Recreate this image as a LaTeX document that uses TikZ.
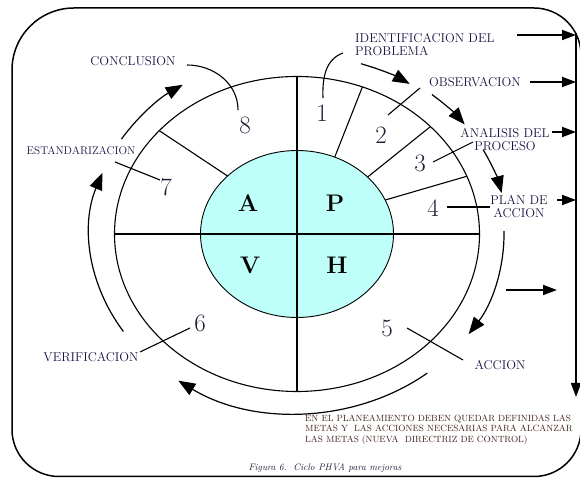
\documentclass[tikz,border=0pt]{standalone}
\usetikzlibrary{arrows.meta,calc}
\definecolor{cyanfill}{RGB}{190,255,250}
\definecolor{labelblue}{RGB}{22,22,70}
\definecolor{numgray}{RGB}{30,30,55}
\definecolor{notebrown}{RGB}{65,30,25}
\begin{document}
\begin{tikzpicture}[x=1pt,y=1pt,
  frame/.style={line width=1.5pt},
  ring/.style={line width=1.1pt},
  cross/.style={line width=1.8pt},
  spoke/.style={line width=1.1pt},
  leader/.style={line width=1.1pt},
  cyclearrow/.style={line width=1.2pt,-{Triangle[length=17pt,width=13pt]}},
  sidearrow/.style={line width=1.8pt,-{Triangle[length=14pt,width=10pt]}},
  lbl/.style={font=\fontsize{12.8}{13}\selectfont, text=labelblue, inner sep=0pt},
  num/.style={font=\fontsize{25}{25}\selectfont, text=numgray, inner sep=0pt},
  quad/.style={font=\fontsize{24}{24}\selectfont\bfseries, inner sep=0pt},
]
\useasboundingbox (0,0) rectangle (580,478);

% outer rounded frame
\draw[frame] (12,408) -- (12,48.5) arc[start angle=180,end angle=270,radius=47pt]
  -- (534,1.5) arc[start angle=270,end angle=360,radius=47pt]
  -- (581,423) arc[start angle=0,end angle=90,radius=47pt]
  -- (74,470) arc[start angle=90,end angle=180,radius=62pt] -- cycle;

% centre, inner ellipse and ring
\coordinate (O) at (297,244);
\fill[cyanfill] (O) ellipse [x radius=96.5pt, y radius=83.5pt];
\draw[line width=0.9pt] (O) ellipse [x radius=96.5pt, y radius=83.5pt];
\draw[ring] (O) ellipse [x radius=182.5pt, y radius=157.5pt];

% quadrant cross
\path (O) ++(180:182.5pt and 157.5pt) coordinate (ringW)
      (O) ++(0:182.5pt and 157.5pt) coordinate (ringE)
      (O) ++(90:182.5pt and 157.5pt) coordinate (ringN)
      (O) ++(270:182.5pt and 157.5pt) coordinate (ringS);
\draw[cross] (ringW) -- (ringE);
\draw[cross] (ringN) -- (ringS);

% spokes between inner ellipse and ring
\foreach \name/\ti/\to in {sa/67/69, sb/43/43, sc/24/21.5, sd/136/139}{
  \path (O) ++(\ti:96.5pt and 83.5pt) coordinate (\name-in)
        (O) ++(\to:182.5pt and 157.5pt) coordinate (\name-out);
  \draw[spoke] (\name-in) -- (\name-out);
}

% quadrant letters
\node[quad] (qA) at (248,275) {A};
\node[quad] (qP) at (335,275) {P};
\node[quad] (qV) at (250,213) {V};
\node[quad] (qH) at (337,213) {H};

% step numbers
\node[num] (n1) at (322,365) {1};
\node[num] (n2) at (381,343) {2};
\node[num] (n3) at (420,315) {3};
\node[num] (n4) at (433,270) {4};
\node[num] (n5) at (387,150) {5};
\node[num] (n6) at (200,155) {6};
\node[num] (n7) at (166,291) {7};
\node[num] (n8) at (245,353) {8};

% step labels
\node[lbl] (conclusion) at (133,417) {CONCLUSION};
\node[lbl, align=left, anchor=west] (identif) at (355,433.5) {IDENTIFICACION DEL\\PROBLEMA};
\node[lbl] (observ) at (475,396) {OBSERVACION};
\node[lbl, align=center] (analisis) at (505,338) {ANALISIS DEL\\PROCESO};
\node[lbl, align=center] (plan) at (519,271.5) {PLAN DE\\ACCION};
\node[lbl, font=\fontsize{11.2}{12}\selectfont] (estand) at (81,327) {ESTANDARIZACION};
\node[lbl] (verif) at (91,121) {VERIFICACION};
\node[lbl] (accion) at (500,113) {ACCION};

% leader lines from labels to numbers
\coordinate (l8a) at (187,413);  \coordinate (l8b) at (238,368);
\coordinate (l1a) at (343,425);  \coordinate (l1b) at (323,380);
\coordinate (l2a) at (420,390);  \coordinate (l2b) at (388,363);
\coordinate (l3a) at (473,336);  \coordinate (l3b) at (433,316);
\coordinate (l4a) at (447,271);  \coordinate (l4b) at (490,271);
\coordinate (l5a) at (407,150);  \coordinate (l5b) at (463,118);
\coordinate (l6a) at (190,150);  \coordinate (l6b) at (140,126);
\coordinate (l7a) at (115,316);  \coordinate (l7b) at (160,298);
\draw[leader] (l8a) to[out=0,in=90] (l8b);
\draw[leader] (l1a) to[out=200,in=92] (l1b);
\draw[leader] (l2a) -- (l2b);
\draw[leader] (l3a) -- (l3b);
\draw[leader] (l4a) -- (l4b);
\draw[leader] (l5a) -- (l5b);
\draw[leader] (l6a) -- (l6b);
\draw[leader] (l7a) -- (l7b);

% cycle arrows around the ring
\foreach \a/\b/\rx/\ry in {213/160/207/179, 148/123.5/207/179, 309/235/207/179,
                          1/-34/207/179, 72/57/207/179, 50/37/210/182, 27.6/13/210/182}{
  \draw[cyclearrow] (O) ++(\a:\rx pt and \ry pt)
    arc[start angle=\a, end angle=\b, x radius=\rx pt, y radius=\ry pt];
}

% side arrows feeding the control line
\coordinate (vtop) at (576,445);
\coordinate (vbot) at (576,81);
\draw[sidearrow] (vtop) -- (vbot);
\foreach \x/\y/\xe in {517/443/576, 530/396/576, 552/346/576, 557/278/576, 506/188/557}{
  \coordinate (s\y a) at (\x,\y);
  \coordinate (s\y b) at (\xe,\y);
  \draw[sidearrow] (s\y a) -- (s\y b);
}

% note and caption
\node[font=\fontsize{9}{10.5}\selectfont, text=notebrown, align=left,
      anchor=north west, inner sep=0pt] (note) at (305,63.5)
  {EN EL PLANEAMIENTO DEBEN QUEDAR DEFINIDAS LAS\\
   METAS Y\ \ LAS ACCIONES NECESARIAS PARA ALCANZAR\\
   LAS METAS (NUEVA\ \ DIRECTRIZ DE CONTROL)};
\node[font=\fontsize{9.5}{10}\selectfont\itshape, text=numgray, inner sep=0pt]
  (caption) at (325,10) {Figura 6.\ \ Ciclo PHVA para mejoras};
\end{tikzpicture}
\end{document}
